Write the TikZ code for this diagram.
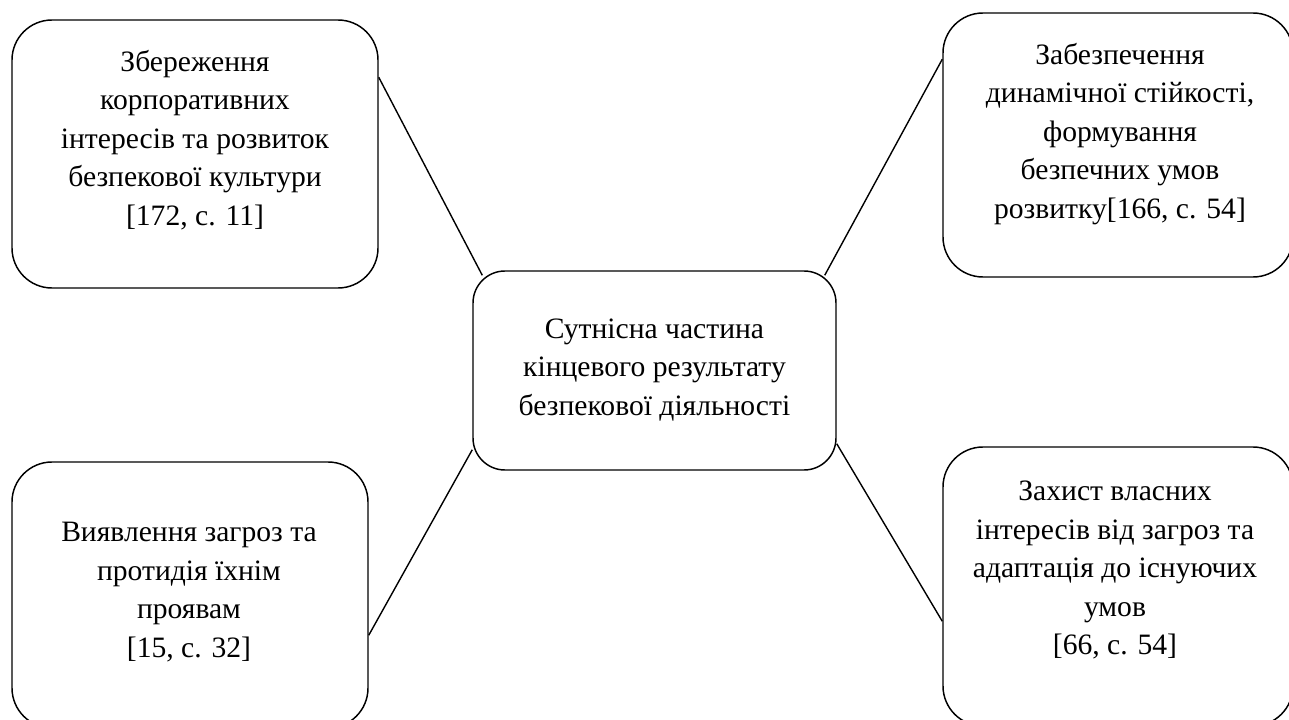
\documentclass[tikz,border=0pt]{standalone}
\usepackage{fontspec}
\setmainfont{Liberation Serif}
\newdimen\pxu
\pxu=0.75pt
\tikzset{
  box/.style={draw, line width=1.1pt, rectangle, rounded corners=30pt, inner sep=0pt},
  cbox/.style={draw, line width=1.1pt, rectangle, rounded corners=24pt, inner sep=0pt},
  txt/.style={align=center, inner sep=0pt, font=\fontsize{22.2}{28.9}\selectfont},
  link/.style={line width=1.05pt}
}
\begin{document}
\begin{tikzpicture}[x=0.75pt, y=-0.75pt]
\useasboundingbox (0,0) rectangle (1289,720);
\clip (0,0) rectangle (1289,720);

% outer boxes
\node[box, minimum width=366\pxu, minimum height=268\pxu] (tl) at (195,154) {};
\node[box, minimum width=350\pxu, minimum height=264\pxu] (tr) at (1118,145) {};
\node[box, minimum width=356\pxu, minimum height=266\pxu] (bl) at (190,595) {};
\node[box, minimum width=350\pxu, minimum height=279\pxu] (br) at (1118,586.5) {};
% central box
\node[cbox, minimum width=363\pxu, minimum height=199\pxu] (c) at (654.5,370.5) {};

% texts
\node[txt] (tlt) at (195,140) {Збереження\\корпоративних\\інтересів та розвиток\\безпекової культури\\{[}172, с. 11{]}};
\node[txt] (trt) at (1120,134) {Забезпечення\\динамічної стійкості,\\формування\\безпечних умов\\розвитку{[}166, с. 54{]}};
\node[txt] (blt) at (189,592) {Виявлення загроз та\\протидія їхнім\\проявам\\{[}15, с. 32{]}};
\node[txt] (brt) at (1115,570) {Захист власних\\інтересів від загроз та\\адаптація до існуючих\\умов\\{[}66, с. 54{]}};
\node[txt] (ct) at (654.5,370) {Сутнісна частина\\кінцевого результату\\безпекової діяльності};

% connectors
\draw[link] ([yshift=-58\pxu]tl.north east) -- ([shift={(10\pxu,-5\pxu)}]c.north west);
\draw[link] ([yshift=-47\pxu]tr.north west) -- ([shift={(-12\pxu,-5\pxu)}]c.north east);
\draw[link] ([yshift=-174\pxu]bl.north east) -- ([yshift=21\pxu]c.south west);
\draw[link] ([yshift=27\pxu]c.south east) -- ([yshift=-175\pxu]br.north west);
\end{tikzpicture}
\end{document}
